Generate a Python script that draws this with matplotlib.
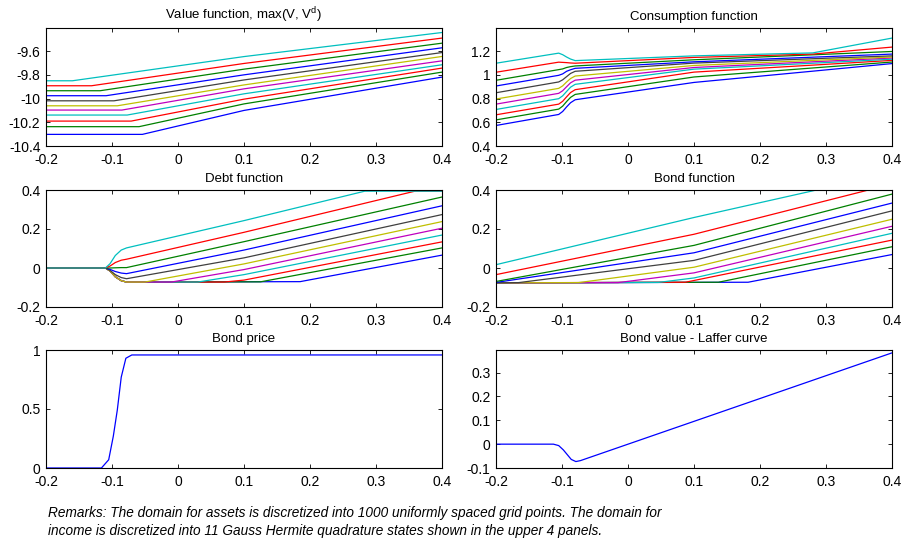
import matplotlib
matplotlib.use("Agg")
import matplotlib.pyplot as plt
from matplotlib.ticker import FuncFormatter

plt.rcParams['font.family'] = ['Liberation Sans', 'DejaVu Sans']
plt.rcParams['mathtext.fontset'] = 'custom'
plt.rcParams['mathtext.rm'] = 'Liberation Sans'
plt.rcParams['axes.unicode_minus'] = False

# matlab (old) default line colours, 11 income states
colores = [(0, 0, 1), (0, 0.5, 0), (1, 0, 0), (0, 0.75, 0.75), (0.75, 0, 0.75),
           (0.75, 0.75, 0), (0.25, 0.25, 0.25), (0, 0, 1), (0, 0.5, 0), (1, 0, 0),
           (0, 0.75, 0.75)]

x_ticks = [-0.2, -0.1, 0, 0.1, 0.2, 0.3, 0.4]

# value function: flat until kink, then rising
valor_kink = [-0.054, -0.059, -0.071, -0.077, -0.085, -0.092, -0.097, -0.109, -0.118, -0.131, -0.160]
valor_flat = [-10.302, -10.237, -10.190, -10.139, -10.097, -10.061, -10.019, -9.976, -9.934, -9.892, -9.850]
valor_01 = [-10.100, -10.045, -10.005, -9.960, -9.918, -9.885, -9.843, -9.800, -9.752, -9.704, -9.646]
valor_04 = [-9.819, -9.777, -9.743, -9.715, -9.682, -9.645, -9.612, -9.572, -9.533, -9.490, -9.443]

# consumption function
cons_x = [-0.2, -0.105, -0.099, -0.093, -0.087, -0.08, 0.1, 0.28, 0.4]
cons_y = [
    [0.573, 0.666, 0.691, 0.730, 0.765, 0.790, 0.936, 1.031, 1.095],
    [0.620, 0.711, 0.736, 0.775, 0.810, 0.835, 0.982, 1.058, 1.108],
    [0.663, 0.753, 0.777, 0.815, 0.851, 0.875, 1.023, 1.082, 1.122],
    [0.708, 0.799, 0.823, 0.860, 0.896, 0.920, 1.048, 1.098, 1.132],
    [0.753, 0.844, 0.866, 0.900, 0.933, 0.955, 1.062, 1.110, 1.142],
    [0.796, 0.886, 0.907, 0.940, 0.969, 0.990, 1.079, 1.122, 1.150],
    [0.849, 0.940, 0.958, 0.985, 1.012, 1.030, 1.099, 1.136, 1.160],
    [0.906, 0.996, 1.008, 1.030, 1.043, 1.055, 1.110, 1.149, 1.175],
    [0.954, 1.044, 1.050, 1.062, 1.069, 1.075, 1.127, 1.169, 1.197],
    [1.022, 1.107, 1.105, 1.103, 1.100, 1.098, 1.147, 1.175, 1.234],
    [1.098, 1.183, 1.170, 1.150, 1.133, 1.120, 1.160, 1.185, 1.310],
]

# debt function
debt_x = [
    [-0.2, -0.11, -0.103, -0.095, -0.086, -0.078, 0.185, 0.4],
    [-0.2, -0.11, -0.103, -0.095, -0.086, -0.078, 0.125, 0.4],
    [-0.2, -0.11, -0.103, -0.095, -0.086, -0.078, 0.07, 0.1, 0.4],
    [-0.2, -0.11, -0.103, -0.095, -0.086, -0.078, 0.03, 0.1, 0.4],
    [-0.2, -0.11, -0.103, -0.095, -0.086, -0.078, -0.01, 0.1, 0.4],
    [-0.2, -0.11, -0.103, -0.095, -0.086, -0.078, -0.05, 0.1, 0.4],
    [-0.2, -0.11, -0.103, -0.095, -0.086, -0.078, 0.1, 0.4],
    [-0.2, -0.11, -0.103, -0.095, -0.086, -0.078, 0.1, 0.4],
    [-0.2, -0.11, -0.103, -0.095, -0.086, -0.078, 0.1, 0.4],
    [-0.2, -0.11, -0.103, -0.095, -0.086, -0.078, 0.1, 0.359, 0.4],
    [-0.2, -0.11, -0.103, -0.095, -0.086, -0.078, 0.1, 0.283, 0.4],
]
debt_y = [
    [0, 0, -0.015, -0.045, -0.065, -0.072, -0.070, 0.066],
    [0, 0, -0.015, -0.045, -0.065, -0.072, -0.071, 0.103],
    [0, 0, -0.015, -0.045, -0.065, -0.072, -0.072, -0.062, 0.134],
    [0, 0, -0.015, -0.045, -0.065, -0.072, -0.072, -0.034, 0.169],
    [0, 0, -0.015, -0.045, -0.065, -0.072, -0.072, -0.008, 0.204],
    [0, 0, -0.015, -0.045, -0.065, -0.072, -0.072, 0.021, 0.238],
    [0, 0, -0.012, -0.034, -0.049, -0.055, 0.052, 0.274],
    [0, 0, -0.007, -0.018, -0.026, -0.029, 0.092, 0.319],
    [0, 0, 0.000, 0.001, 0.002, 0.002, 0.135, 0.364],
    [0, 0, 0.010, 0.028, 0.040, 0.045, 0.183, 0.394, 0.394],
    [0, 0, 0.022, 0.064, 0.092, 0.103, 0.243, 0.394, 0.394],
]

# bond function
bond_x = [
    [-0.2, 0.182, 0.4],
    [-0.2, 0.137, 0.4],
    [-0.2, 0.087, 0.4],
    [-0.2, 0.046, 0.1, 0.4],
    [-0.2, -0.015, 0.1, 0.4],
    [-0.2, -0.075, 0.1, 0.4],
    [-0.2, -0.166, 0.1, 0.4],
    [-0.2, 0.1, 0.4],
    [-0.2, 0.1, 0.4],
    [-0.2, 0.1, 0.362, 0.4],
    [-0.2, 0.1, 0.283, 0.4],
]
bond_y = [
    [-0.076, -0.073, 0.069],
    [-0.076, -0.073, 0.109],
    [-0.076, -0.073, 0.143],
    [-0.076, -0.074, -0.051, 0.178],
    [-0.076, -0.075, -0.025, 0.214],
    [-0.076, -0.075, 0.004, 0.250],
    [-0.076, -0.075, 0.039, 0.293],
    [-0.074, 0.078, 0.333],
    [-0.069, 0.116, 0.379],
    [-0.034, 0.173, 0.398, 0.398],
    [0.017, 0.259, 0.398, 0.398],
]

# bond price and laffer curve
precio_x = [-0.2, -0.116, -0.105, -0.098, -0.092, -0.086, -0.079, -0.07, 0.4]
precio_y = [0, 0, 0.07, 0.27, 0.49, 0.77, 0.93, 0.958, 0.958]
laffer_x = [-0.2, -0.113, -0.105, -0.098, -0.092, -0.086, -0.079, -0.072, 0.4]
laffer_y = [0, 0, -0.006, -0.024, -0.044, -0.064, -0.073, -0.069, 0.383]

fig = plt.figure(figsize=(9.02, 5.42), dpi=100)

pos_x = [46 / 902, 496 / 902]
largo = 396 / 902
filas = [(1 - 146 / 542, 118 / 542), (1 - 307 / 542, 117 / 542), (1 - 468 / 542, 118 / 542)]


def nuevo_eje(fila, col, titulo, ylim, yticks):
    ax = fig.add_axes([pos_x[col], filas[fila][0], largo, filas[fila][1]])
    ax.set_xlim(-0.2, 0.4)
    ax.set_ylim(*ylim)
    ax.set_xticks(x_ticks)
    ax.set_yticks(yticks)
    fmt = FuncFormatter(lambda v, p: '%g' % round(v, 4))
    ax.xaxis.set_major_formatter(fmt)
    ax.yaxis.set_major_formatter(fmt)
    ax.tick_params(direction='in', top=True, right=True, length=3, width=0.6,
                   labelsize=10)
    ax.tick_params(axis='x', pad=5)
    ax.tick_params(axis='y', pad=4)
    for s in ax.spines.values():
        s.set_linewidth(0.8)
    ax.set_title(titulo, fontsize=9.5, pad=6)
    return ax


ax = nuevo_eje(0, 0, r'Value function, max(V, V$^{\mathrm{d}}$)', (-10.4, -9.405),
               [-10.4, -10.2, -10, -9.8, -9.6])
for i in range(11):
    ax.plot([-0.2, valor_kink[i], 0.1, 0.4],
            [valor_flat[i], valor_flat[i], valor_01[i], valor_04[i]],
            color=colores[i], lw=0.9)

ax = nuevo_eje(0, 1, 'Consumption function', (0.4, 1.395), [0.4, 0.6, 0.8, 1, 1.2])
for i in range(11):
    ax.plot(cons_x, cons_y[i], color=colores[i], lw=0.9)

ax = nuevo_eje(1, 0, 'Debt function', (-0.2, 0.4), [-0.2, 0, 0.2, 0.4])
for i in range(11):
    ax.plot(debt_x[i], debt_y[i], color=colores[i], lw=0.9)

ax = nuevo_eje(1, 1, 'Bond function', (-0.2, 0.4), [-0.2, 0, 0.2, 0.4])
for i in range(11):
    ax.plot(bond_x[i], bond_y[i], color=colores[i], lw=0.9)

ax = nuevo_eje(2, 0, 'Bond price', (0, 1), [0, 0.5, 1])
ax.plot(precio_x, precio_y, color='b', lw=0.9)

ax = nuevo_eje(2, 1, 'Bond value - Laffer curve', (-0.1, 0.395), [-0.1, 0, 0.1, 0.2, 0.3])
ax.plot(laffer_x, laffer_y, color='b', lw=0.9)

fig.text(48 / 902, 1 - 513 / 542,
         'Remarks: The domain for assets is discretized into 1000 uniformly spaced grid points. The domain for',
         fontsize=9.8, style='italic', va='center')
fig.text(48 / 902, 1 - 531 / 542,
         'income is discretized into 11 Gauss Hermite quadrature states shown in the upper 4 panels.',
         fontsize=9.8, style='italic', va='center')

fig.savefig('out.png', dpi=100)
